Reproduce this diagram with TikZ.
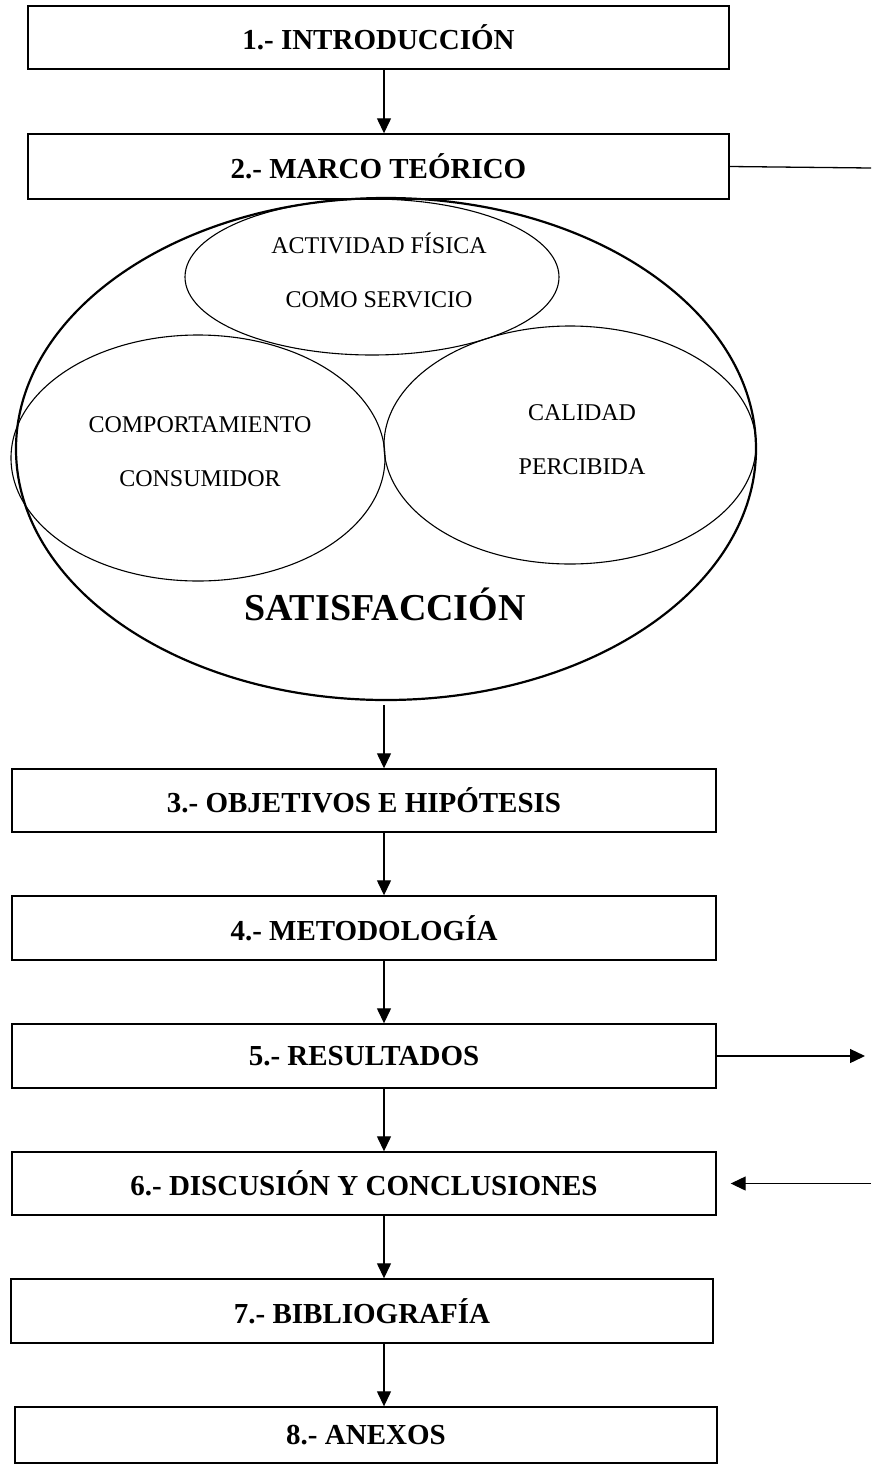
\documentclass[tikz,border=0pt]{standalone}
\usepackage{fontspec}
\setmainfont{Liberation Serif}
\usetikzlibrary{shapes.geometric,arrows.meta}
\begin{document}
\begin{tikzpicture}[x=1pt,y=-1pt,
  stepbox/.style={draw, line width=1.4pt, inner sep=0pt,
    font=\bfseries\fontsize{29}{34}\selectfont},
  ring/.style={draw, ellipse, inner sep=0pt, line width=1.1pt},
  bigring/.style={draw, ellipse, inner sep=0pt, line width=2.2pt},
  topic/.style={align=center, font=\fontsize{24}{54}\selectfont},
  flow/.style={line width=1.3pt, -{Triangle[length=15pt,width=14pt]}}
]
\useasboundingbox (0,0) rectangle (871,1465);

% chapter boxes
\node[stepbox, minimum width=701pt, minimum height=63pt] (b1) at (378.5,37.5) {1.- INTRODUCCIÓN};
\node[stepbox, minimum width=701pt, minimum height=65pt] (b2) at (378.5,166.5) {2.- MARCO TEÓRICO};
\node[stepbox, minimum width=704pt, minimum height=63pt] (b3) at (364,800.5) {3.- OBJETIVOS E HIPÓTESIS};
\node[stepbox, minimum width=704pt, minimum height=64pt] (b4) at (364,928) {4.- METODOLOGÍA};
\node[stepbox, minimum width=704pt, minimum height=64pt] (b5) at (364,1056) {5.- RESULTADOS};
\node[stepbox, minimum width=704pt, minimum height=63pt] (b6) at (364,1183.5) {6.- DISCUSIÓN Y CONCLUSIONES};
\node[stepbox, minimum width=702pt, minimum height=64pt] (b7) at (362,1311) {7.- BIBLIOGRAFÍA};
\node[stepbox, minimum width=702pt, minimum height=56pt] (b8) at (366,1435) {8.- ANEXOS};

% theoretical framework: nested ellipses
\node[bigring, minimum width=740pt, minimum height=502pt] (sat) at (386,449) {};
\node[ring, minimum width=374pt, minimum height=156pt] (act) at (372,277) {};
\node[ring, minimum width=374pt, minimum height=246pt] (com) at (198,458) {};
\node[ring, minimum width=372pt, minimum height=238pt] (cal) at (570,445) {};

\node[topic] (tAct) at (379,270) {ACTIVIDAD FÍSICA\\COMO SERVICIO};
\node[topic] (tCom) at (200,451.5) {COMPORTAMIENTO\\CONSUMIDOR};
\node[topic] (tCal) at (582,440) {CALIDAD\\PERCIBIDA};
\node[font=\bfseries\fontsize{38}{44}\selectfont] (tSat) at (385,604) {SATISFACCIÓN};

% vertical flow
\coordinate (spine) at (384,0);
\draw[flow] (b1.south -| spine) -- (b2.north -| spine);
\draw[flow] ([yshift=-4pt]sat.south -| spine) -- (b3.north -| spine);
\draw[flow] (b3.south -| spine) -- (b4.north -| spine);
\draw[flow] (b4.south -| spine) -- (b5.north -| spine);
\draw[flow] (b5.south -| spine) -- (b6.north -| spine);
\draw[flow] (b6.south -| spine) -- (b7.north -| spine);
\draw[flow] (b7.south -| spine) -- (b8.north -| spine);

% side connectors
\coordinate (offR) at (871,168);
\draw[line width=1.3pt] (b2.east) -- (offR);
\coordinate (resR) at (865,1056);
\draw[flow] (b5.east) -- (resR);
\coordinate (disR) at (871,1183.5);
\draw[flow, shorten >=14pt] (disR) -- (b6.east);
\end{tikzpicture}
\end{document}
